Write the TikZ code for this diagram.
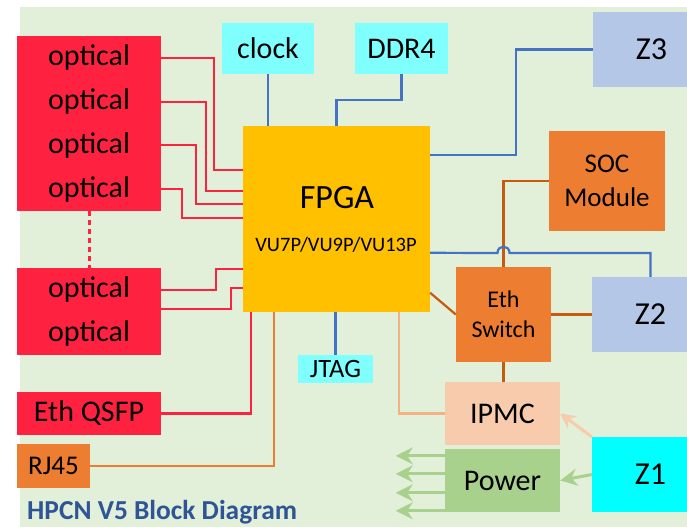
\documentclass[tikz,border=0pt]{standalone}
\usepackage{fontspec}
\setmainfont{Carlito}
\usetikzlibrary{calc,arrows.meta}
\definecolor{bg}{HTML}{E2F0D9}
\definecolor{optred}{RGB}{255,34,64}
\definecolor{lcyan}{HTML}{80FFFF}
\definecolor{fpgay}{HTML}{FFC000}
\definecolor{zblue}{HTML}{B4C7E7}
\definecolor{orng}{HTML}{ED7D31}
\definecolor{brwn}{HTML}{C55A11}
\definecolor{lblue}{HTML}{4472C4}
\definecolor{ipmcc}{HTML}{F8CBAD}
\definecolor{ipmcl}{HTML}{F4B183}
\definecolor{pwr}{HTML}{A9D18E}
\definecolor{zcyan}{HTML}{00FFFF}
\definecolor{ttl}{HTML}{2F5597}
\begin{document}
\begin{tikzpicture}[x=1pt,y=-1pt,
  box/.style={rectangle,inner sep=0pt,align=center,text=black},
  f30/.style={font=\fontsize{30pt}{36pt}\selectfont},
  redline/.style={draw=optred,line width=2.2pt},
  blueline/.style={draw=lblue,line width=2.2pt},
  brline/.style={draw=brwn,line width=2.2pt},
  pwrarrow/.style={draw=pwr,line width=3pt,-{Stealth[length=17pt,width=17pt]}},
  iparrow/.style={draw=ipmcc,line width=3pt,-{Stealth[length=15pt,width=15pt]}}]
\useasboundingbox (0,0) rectangle (687,527);
\fill[bg] (20,7) rectangle (687,527);
% optical blocks
\node[box,f30,fill=optred,minimum width=144pt,minimum height=43.75pt] (opt1) at (89,57.875) {optical};
\node[box,f30,fill=optred,minimum width=144pt,minimum height=43.75pt] (opt2) at (89,101.625) {optical};
\node[box,f30,fill=optred,minimum width=144pt,minimum height=43.75pt] (opt3) at (89,145.375) {optical};
\node[box,f30,fill=optred,minimum width=144pt,minimum height=43.75pt] (opt4) at (89,189.125) {optical};
\node[box,f30,fill=optred,minimum width=144pt,minimum height=43.5pt] (opt5) at (89,289.75) {optical};
\node[box,f30,fill=optred,minimum width=144pt,minimum height=43.5pt] (opt6) at (89,333.25) {optical};
\node[box,f30,fill=optred,minimum width=144pt,minimum height=43pt] (qsfp) at (89,413.5) {Eth QSFP};
\node[box,font=\fontsize{27pt}{32pt}\selectfont,fill=orng,minimum width=73pt,minimum height=44pt] (rj) at (53.5,466) {RJ45};
% top
\node[box,f30,fill=lcyan,minimum width=92pt,minimum height=51pt] (clock) at (268,48.5) {clock};
\node[box,f30,fill=lcyan,minimum width=93pt,minimum height=51pt] (ddr) at (401.5,48.5) {DDR4};
% FPGA
\node[box,fill=fpgay,minimum width=187pt,minimum height=186pt] (fpga) at (336.5,219) {};
\node[box,font=\fontsize{34pt}{40pt}\selectfont] (fpgat) at (337,198) {FPGA};
\node[box,font=\fontsize{20.5pt}{24pt}\selectfont] (fpgas) at (336,245) {VU7P/VU9P/VU13P};
\node[box,font=\fontsize{26.5pt}{30pt}\selectfont,fill=lcyan,minimum width=75pt,minimum height=28pt] (jtag) at (335.5,369) {JTAG};
% right side
\node[box,font=\fontsize{32pt}{38pt}\selectfont,fill=zblue,minimum width=117pt,minimum height=75pt] (z3) at (651.5,49.5) {Z3};
\node[box,font=\fontsize{27pt}{34pt}\selectfont,fill=orng,minimum width=116pt,minimum height=100pt] (soc) at (607,181) {SOC\\Module};
\node[box,font=\fontsize{24pt}{30pt}\selectfont,fill=orng,minimum width=95pt,minimum height=95pt] (eth) at (503.5,314.5) {Eth\\Switch};
\node[box,font=\fontsize{32pt}{38pt}\selectfont,fill=zblue,minimum width=117pt,minimum height=75pt] (z2) at (650.5,314.5) {Z2};
\node[box,f30,fill=ipmcc,minimum width=115pt,minimum height=63pt] (ipmc) at (502.5,413.5) {IPMC};
\node[box,f30,fill=pwr,minimum width=115pt,minimum height=63pt] (power) at (502.5,480.5) {Power};
\node[box,font=\fontsize{32pt}{38pt}\selectfont,fill=zcyan,minimum width=117pt,minimum height=75pt] (z1) at (650.5,474.5) {Z1};
% title
\node[anchor=base west,inner sep=0pt,text=ttl,font=\fontsize{27.4pt}{31pt}\selectfont\bfseries] (title) at (27,519.5) {HPCN V5 Block Diagram};
% optical connectors
\draw[redline] (opt1.east) -- ++(53,0) |- ($(fpga.north west)+(0,44)$);
\draw[redline] (opt2.east) -- ++(45,0) |- ($(fpga.north west)+(0,65)$);
\draw[redline] (opt3.east) -- ++(35,0) |- ($(fpga.north west)+(0,78)$);
\draw[redline] (opt4.east) -- ++(21,0) |- ($(fpga.north west)+(0,92)$);
\draw[redline] (opt5.east) -- ++(55,0) |- ($(fpga.north west)+(0,143)$);
\draw[redline] ($(opt6.north east)+(0,-2.5)$) -- ++(70,0) |- ($(fpga.north west)+(0,162)$);
\draw[redline] (qsfp.east) -| ($(fpga.south west)+(8,0)$);
\draw[draw=orng,line width=2.2pt] (rj.east) -| ($(fpga.south west)+(31,0)$);
\draw[draw=optred,line width=3pt,dash pattern=on 5pt off 4pt] (opt4.south) -- (opt5.north);
% top connectors
\draw[blueline] (clock.south) -- (clock.south |- fpga.north);
\draw[blueline] (ddr.south) -- ++(0,26) -| (fpga.north);
\draw[blueline] (z3.west) -- ++(-77,0) |- ($(fpga.north east)+(0,29)$);
\draw[blueline] (jtag.north |- fpga.south) -- (jtag.north);
% right connectors
\draw[brline] (soc.west) -| (eth.north);
\draw[blueline] ($(fpga.north east)+(0,127)$) -- (497.5,253) .. controls (497.5,244.5) and (509.5,244.5) .. (509.5,253) -| (z2.north);
\draw[brline] ($(fpga.north east)+(0,167)$) -- (eth.west);
\draw[brline] (eth.east) -- (z2.west);
\draw[brline] (eth.south) -- (eth.south |- ipmc.north);
\draw[draw=ipmcl,line width=2.2pt] ($(fpga.south west)+(156,0)$) |- (ipmc.west);
% power arrows
\draw[pwrarrow] ($(power.north west)+(0,7)$) -- ++(-49,0);
\draw[pwrarrow] ($(power.north west)+(0,25)$) -- ++(-49,0);
\draw[pwrarrow] ($(power.north west)+(0,44)$) -- ++(-49,0);
\draw[pwrarrow] ($(power.north west)+(0,62)$) -- ++(-49,0);
\draw[pwrarrow] (z1.west) -- (power.east);
\draw[iparrow] (z1.north west) -- (ipmc.east);
\end{tikzpicture}
\end{document}
